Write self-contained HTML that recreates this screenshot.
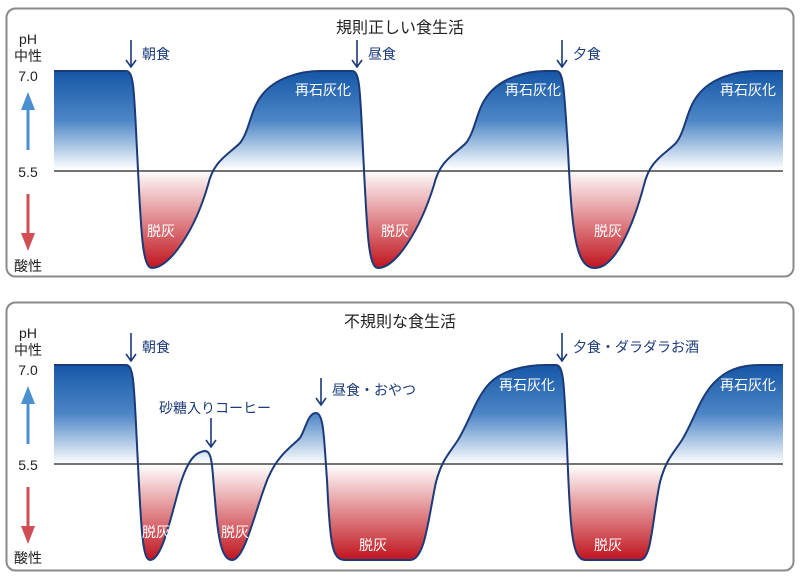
<!DOCTYPE html>
<html><head><meta charset="utf-8"><style>
body{margin:0;background:#fff;}
svg{display:block;font-family:"Liberation Sans","Noto Sans CJK JP",sans-serif;}
</style></head><body>
<svg width="800" height="580" viewBox="0 0 800 580">
<defs>
<linearGradient id="g1" gradientUnits="userSpaceOnUse" x1="0" y1="71" x2="0" y2="268">
<stop offset="0" stop-color="#1557a6"/><stop offset="0.25" stop-color="#4d86c6"/><stop offset="0.5" stop-color="#ffffff"/><stop offset="0.75" stop-color="#e08a8e"/><stop offset="1" stop-color="#c0141e"/>
</linearGradient>
<linearGradient id="g2" gradientUnits="userSpaceOnUse" x1="0" y1="365" x2="0" y2="560">
<stop offset="0" stop-color="#1557a6"/><stop offset="0.25" stop-color="#4d86c6"/><stop offset="0.51" stop-color="#ffffff"/><stop offset="0.75" stop-color="#e08a8e"/><stop offset="1" stop-color="#c0141e"/>
</linearGradient>
</defs>
<rect x="6.5" y="8.5" width="787" height="268" rx="9" fill="none" stroke="#8a8a8a" stroke-width="2"/>
<rect x="6.5" y="302.5" width="787" height="268" rx="9" fill="none" stroke="#8a8a8a" stroke-width="2"/>

<path d="M54,71 L126,71 C134,71 134,90 137,150 C141,230 142,268 152,268 C170,268 195,230 208,185 C214,160 228,155 240,143 C250,130 250,110 262,95 C275,78 300,71 320,71 L352,71 C360,71 360,90 363,150 C367,230 368,268 378,268 C396,268 420,230 434,185 C440,160 454,155 466,143 C476,130 476,110 488,95 C501,78 526,71 546,71 L556,71 C564,71 564,90 568,150 C572,235 576,268 595,268 C614,268 632,230 644,185 C650,160 664,155 676,143 C686,130 686,110 698,95 C711,78 736,71 756,71 L783,71 L783,171 L54,171 Z" fill="url(#g1)"/>
<line x1="54" y1="171" x2="783" y2="171" stroke="#444" stroke-width="1.5"/>
<path d="M54,71 L126,71 C134,71 134,90 137,150 C141,230 142,268 152,268 C170,268 195,230 208,185 C214,160 228,155 240,143 C250,130 250,110 262,95 C275,78 300,71 320,71 L352,71 C360,71 360,90 363,150 C367,230 368,268 378,268 C396,268 420,230 434,185 C440,160 454,155 466,143 C476,130 476,110 488,95 C501,78 526,71 546,71 L556,71 C564,71 564,90 568,150 C572,235 576,268 595,268 C614,268 632,230 644,185 C650,160 664,155 676,143 C686,130 686,110 698,95 C711,78 736,71 756,71 L783,71" fill="none" stroke="#1b3a7a" stroke-width="2"/>

<path d="M54,365 L126,365 C134,365 134,385 137,445 C141,525 142,560 150,560 C162,560 170,520 180,485 C188,460 195,452 205,451 C213,451 212,470 215,500 C218,540 222,560 232,560 C245,560 255,510 268,478 C278,455 290,448 300,438 C306,428 308,413 316,413 C324,413 324,440 327,480 C330,545 332,560 345,560 L410,560 C425,560 428,520 436,482 C442,460 448,455 458,440 C470,420 475,400 488,385 C501,370 526,365 546,365 L556,365 C564,365 564,385 567,445 C570,530 572,560 585,560 L640,560 C652,560 652,520 660,482 C666,460 672,455 682,440 C694,420 699,400 712,385 C725,370 740,365 760,365 L783,365 L783,464 L54,464 Z" fill="url(#g2)"/>
<line x1="54" y1="464" x2="783" y2="464" stroke="#444" stroke-width="1.5"/>
<path d="M54,365 L126,365 C134,365 134,385 137,445 C141,525 142,560 150,560 C162,560 170,520 180,485 C188,460 195,452 205,451 C213,451 212,470 215,500 C218,540 222,560 232,560 C245,560 255,510 268,478 C278,455 290,448 300,438 C306,428 308,413 316,413 C324,413 324,440 327,480 C330,545 332,560 345,560 L410,560 C425,560 428,520 436,482 C442,460 448,455 458,440 C470,420 475,400 488,385 C501,370 526,365 546,365 L556,365 C564,365 564,385 567,445 C570,530 572,560 585,560 L640,560 C652,560 652,520 660,482 C666,460 672,455 682,440 C694,420 699,400 712,385 C725,370 740,365 760,365 L783,365" fill="none" stroke="#1b3a7a" stroke-width="2"/>

<text x="400" y="33" font-size="16" text-anchor="middle" fill="#222">規則正しい食生活</text>
<text x="400" y="327" font-size="16" text-anchor="middle" fill="#222">不規則な食生活</text>
<g font-size="14" fill="#222" text-anchor="middle">
<text x="28" y="44">pH</text><text x="28" y="61">中性</text><text x="28" y="81">7.0</text><text x="28" y="177">5.5</text><text x="28" y="271">酸性</text>
<text x="28" y="338">pH</text><text x="28" y="355">中性</text><text x="28" y="375">7.0</text><text x="28" y="470">5.5</text><text x="28" y="563">酸性</text>
</g>
<g fill="#4a8fd0" stroke="#4a8fd0">
<line x1="28" y1="150" x2="28" y2="108" stroke-width="3"/><path d="M21,110 L28,92 L35,110Z" stroke="none"/>
<line x1="28" y1="444" x2="28" y2="402" stroke-width="3"/><path d="M21,404 L28,386 L35,404Z" stroke="none"/>
</g>
<g fill="#d24e55" stroke="#d24e55">
<line x1="28" y1="194" x2="28" y2="235" stroke-width="3"/><path d="M21,233 L28,251 L35,233Z" stroke="none"/>
<line x1="28" y1="487" x2="28" y2="528" stroke-width="3"/><path d="M21,526 L28,544 L35,526Z" stroke="none"/>
</g>
<g stroke="#1b3a7a" stroke-width="1.6" fill="none">
<path d="M131,40 V67 M126,60 L131,67 L136,60"/>
<path d="M357,40 V67 M352,60 L357,67 L362,60"/>
<path d="M562,40 V67 M557,60 L562,67 L567,60"/>
<path d="M131,333 V361 M126,354 L131,361 L136,354"/>
<path d="M211,418 V447 M206,440 L211,447 L216,440"/>
<path d="M321,378 V405 M316,398 L321,405 L326,398"/>
<path d="M562,333 V361 M557,354 L562,361 L567,354"/>
</g>
<g font-size="14" fill="#1b3a7a">
<text x="142" y="59">朝食</text><text x="368" y="59">昼食</text><text x="573" y="59">夕食</text>
<text x="142" y="352">朝食</text><text x="332" y="395">昼食・おやつ</text><text x="573" y="352">夕食・ダラダラお酒</text>
<text x="215" y="413" text-anchor="middle">砂糖入りコーヒー</text>
</g>
<g font-size="14" fill="#fff" text-anchor="middle">
<text x="323" y="95">再石灰化</text><text x="533" y="95">再石灰化</text><text x="748" y="95">再石灰化</text>
<text x="161" y="236">脱灰</text><text x="395" y="236">脱灰</text><text x="608" y="236">脱灰</text>
<text x="527" y="390">再石灰化</text><text x="748" y="390">再石灰化</text>
<text x="156" y="537">脱灰</text><text x="235" y="537">脱灰</text><text x="373" y="550">脱灰</text><text x="608" y="550">脱灰</text>
</g>
</svg>
</body></html>
